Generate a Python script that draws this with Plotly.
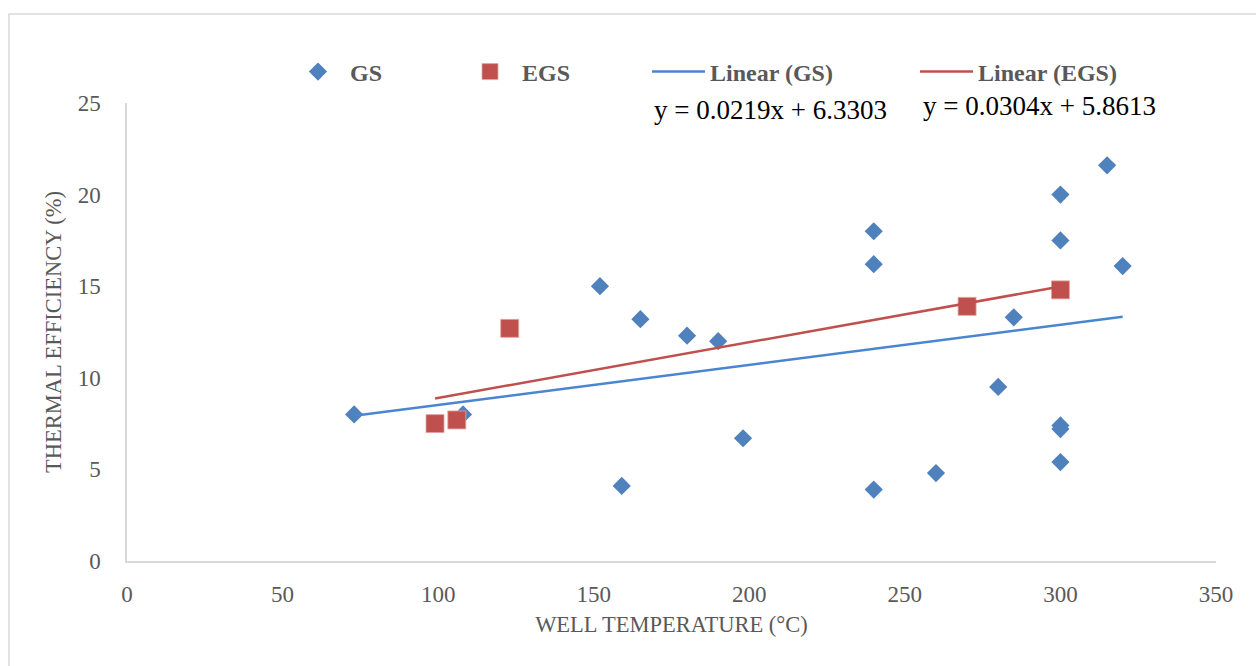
import plotly.graph_objects as go

# ---- data ----
gs_temp = [73, 108, 152, 159, 165, 180, 190, 198, 240, 240, 240, 260, 280, 285,
           300, 300, 300, 300, 300, 315, 320]
gs_eff = [8.0, 8.0, 15.0, 4.1, 13.2, 12.3, 12.0, 6.7, 18.0, 16.2, 3.9, 4.8, 9.5, 13.3,
          20.0, 17.5, 7.4, 7.2, 5.4, 21.6, 16.1]
egs_temp = [99, 106, 123, 270, 300]
egs_eff = [7.5, 7.7, 12.7, 13.9, 14.8]

gs_slope, gs_intercept = 0.0219, 6.3303
egs_slope, egs_intercept = 0.0304, 5.8613

x_ticks = [0, 50, 100, 150, 200, 250, 300, 350]
y_ticks = [0, 5, 10, 15, 20, 25]

BLUE = "#4f81bd"
RED = "#c0504d"
GRAY = "#595959"
FONT = "Liberation Serif"

# plot area in pixels
W, H = 1256, 666
L, R, T, B = 127, 1216, 103, 561


def px_x(p):
    return (p - L) / (R - L)


def px_y(p):
    return (B - p) / (B - T)


def trend(xs, m, c):
    x0, x1 = min(xs), max(xs)
    return [x0, x1], [m * x0 + c, m * x1 + c]


fig = go.Figure()

fig.add_trace(go.Scatter(
    x=gs_temp, y=gs_eff, mode="markers", name="GS", legend="legend",
    marker=dict(symbol="diamond", size=14, color=BLUE, line=dict(width=0)),
))
fig.add_trace(go.Scatter(
    x=egs_temp, y=egs_eff, mode="markers", name="EGS", legend="legend2",
    marker=dict(symbol="square", size=18, color=RED, line=dict(width=0.8, color="#e6a3a1")),
))
tx, ty = trend(gs_temp, gs_slope, gs_intercept)
fig.add_trace(go.Scatter(
    x=tx, y=ty, mode="lines", name="Linear (GS)", legend="legend3",
    line=dict(color="#4a86d0", width=2.5),
))
tx, ty = trend(egs_temp, egs_slope, egs_intercept)
fig.add_trace(go.Scatter(
    x=tx, y=ty, mode="lines", name="Linear (EGS)", legend="legend4",
    line=dict(color=RED, width=2.5),
))

leg_font = dict(family=FONT, size=24, color=GRAY, weight="bold")
leg_y = px_y(72)


def leg(xpx, **kw):
    d = dict(x=px_x(xpx), y=leg_y, xanchor="left", yanchor="middle",
             orientation="h", font=leg_font, bgcolor="rgba(0,0,0,0)",
             borderwidth=0)
    d.update(kw)
    return d


tick_font = dict(family=FONT, size=23, color=GRAY)
title_font = dict(family=FONT, size=22.5, color=GRAY)

fig.update_layout(
    width=W, height=H,
    margin=dict(l=L, r=W - R, t=T, b=H - B, pad=0),
    paper_bgcolor="white", plot_bgcolor="white",
    font=dict(family=FONT, size=20, color=GRAY),
    showlegend=True,
    legend=leg(286, itemwidth=54),
    legend2=leg(458, itemwidth=54),
    legend3=leg(647, itemwidth=53),
    legend4=leg(915, itemwidth=53),
    xaxis=dict(
        range=[0, 350], tickvals=x_ticks, ticks="", showgrid=False,
        showline=True, linecolor="#d9d9d9", linewidth=1.5, zeroline=False,
        tickfont=tick_font, ticklabelstandoff=12,
        title=dict(text="WELL TEMPERATURE (°C)", font=title_font, standoff=10),
    ),
    yaxis=dict(
        range=[0, 25], tickvals=y_ticks, ticks="", showgrid=False,
        showline=True, linecolor="#d9d9d9", linewidth=1.5, zeroline=False,
        tickfont=tick_font, ticklabelstandoff=20,
        title=dict(text="THERMAL EFFICIENCY (%)", font=title_font, standoff=10),
    ),
    annotations=[
        dict(text="y = 0.0219x + 6.3303", x=px_x(652), y=px_y(110), xref="paper", yref="paper",
             xanchor="left", yanchor="middle", showarrow=False,
             font=dict(family=FONT, size=27, color="black")),
        dict(text="y = 0.0304x + 5.8613", x=px_x(921), y=px_y(106), xref="paper", yref="paper",
             xanchor="left", yanchor="middle", showarrow=False,
             font=dict(family=FONT, size=27, color="black")),
    ],
    shapes=[
        dict(type="rect", xref="paper", yref="paper",
             x0=px_x(9), x1=px_x(1262), y0=px_y(672), y1=px_y(14),
             line=dict(color="#d9d9d9", width=1.5), fillcolor="rgba(0,0,0,0)", layer="below"),
    ],
)

fig.write_html("out.html")
